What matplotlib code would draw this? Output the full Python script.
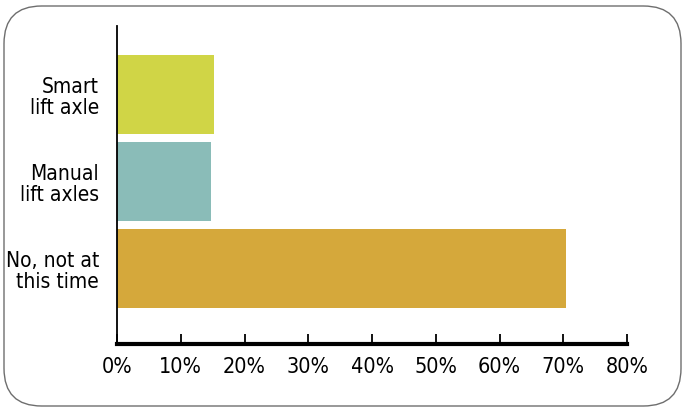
import matplotlib
matplotlib.use('Agg')
import matplotlib.pyplot as plt
from matplotlib.patches import FancyBboxPatch
from matplotlib.ticker import FuncFormatter

categories = ['No, not at\nthis time', 'Manual\nlift axles', 'Smart\nlift axle']
values = [70.4, 14.7, 15.2]
colors = ['#d5a83b', '#8abcb8', '#d0d546']
ticks = [0, 10, 20, 30, 40, 50, 60, 70, 80]

plt.rcParams['font.family'] = ['DejaVu Sans']
plt.rcParams['font.stretch'] = 'condensed'

fig = plt.figure(figsize=(6.84, 4.14), dpi=100)

# rounded frame around the whole chart
frame = FancyBboxPatch((4 / 684, 7 / 414), 677 / 684, 400 / 414,
                       boxstyle='round,pad=0,rounding_size=0.055',
                       transform=fig.transFigure, facecolor='white',
                       edgecolor='#6e6e6e', linewidth=1.0,
                       mutation_aspect=684 / 414, zorder=-10)
fig.patches.append(frame)

ax = fig.add_axes([117 / 684, 69 / 414, 510 / 684, 318 / 414])
ax.set_facecolor('none')
ax.barh(range(len(categories)), values, height=0.91, color=colors)

ax.set_xlim(0, 80)
ax.set_ylim(-0.868, 2.787)
ax.set_xticks(ticks)
ax.xaxis.set_major_formatter(FuncFormatter(lambda v, p: f'{v:.0f}%'))
ax.set_yticks(range(len(categories)))
ax.set_yticklabels(categories, fontsize=15, linespacing=1.05)

ax.spines['top'].set_visible(False)
ax.spines['right'].set_visible(False)
ax.spines['bottom'].set_linewidth(3)
ax.spines['left'].set_linewidth(1.3)
ax.tick_params(axis='x', direction='in', length=7, width=1.3,
               labelsize=15.5, pad=9)
ax.tick_params(axis='y', length=0, pad=13)

fig.savefig('out.png', dpi=100)
